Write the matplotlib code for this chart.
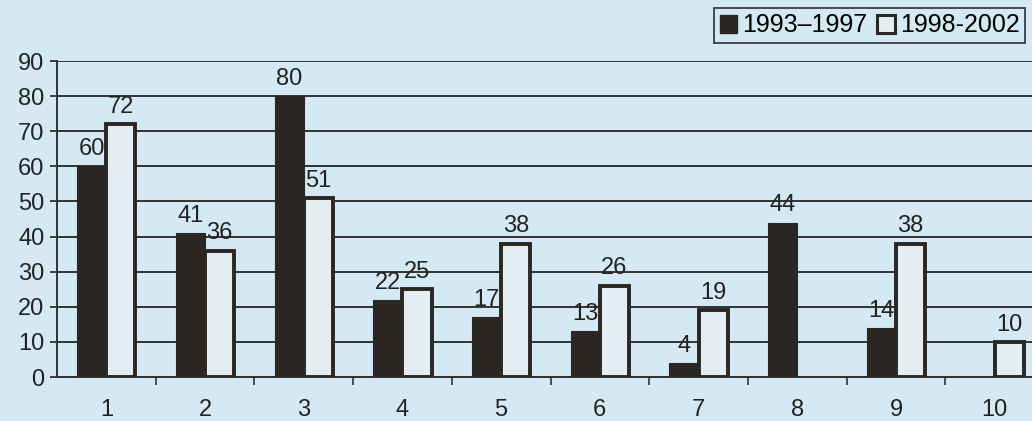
"""Grouped bar chart: two periods, ten categories."""

import matplotlib
import matplotlib.pyplot as plt
import numpy as np
from matplotlib.patches import Patch

matplotlib.use("Agg")

categories = ["1", "2", "3", "4", "5", "6", "7", "8", "9", "10"]
series_names = ["1993\u20131997", "1998-2002"]
values_1993_1997 = [60, 41, 80, 22, 17, 13, 4, 44, 14, None]
values_1998_2002 = [72, 36, 51, 25, 38, 26, 19, None, 38, 10]
y_ticks = [0, 10, 20, 30, 40, 50, 60, 70, 80, 90]

BG = "#d5e9f5"
DARK = "#2a2624"
LIGHT = "#e4eef2"
EDGE = "#2a2624"


def draw_chart(out_path):
    plt.rcParams["font.family"] = ["Liberation Sans", "DejaVu Sans"]
    fig = plt.figure(figsize=(10.32, 4.21), dpi=100, facecolor=BG)
    ax = fig.add_axes([57 / 1032, 44 / 421, 987 / 1032, 316 / 421])
    ax.set_facecolor(BG)

    x = np.arange(1, len(categories) + 1)
    width = 0.295
    dark = np.array([np.nan if v is None else v for v in values_1993_1997], float)
    light = np.array([np.nan if v is None else v for v in values_1998_2002], float)

    ax.bar(x - width / 2, dark, width, color=DARK, edgecolor=DARK,
           linewidth=0.8, zorder=3)
    ax.bar(x + width / 2, light, width, color=LIGHT, edgecolor=EDGE,
           linewidth=2.8, zorder=3)

    for xs, vals in ((x - width / 2, dark), (x + width / 2, light)):
        for xi, v in zip(xs, vals):
            if np.isnan(v):
                continue
            ax.annotate(f"{int(v)}", (xi, v), xytext=(0, 4.5),
                        textcoords="offset points", ha="center", va="bottom",
                        fontsize=17, color="#222222", zorder=4)

    ax.set_xlim(0.5, 10.5)
    ax.set_ylim(0, 90)
    ax.set_yticks(y_ticks)
    ax.yaxis.grid(True, color="#333333", linewidth=1.4, zorder=1)
    ax.set_axisbelow(True)

    ax.set_xticks(x)
    ax.set_xticklabels(categories)
    ax.set_xticks(x[:-1] + 0.5, minor=True)
    ax.tick_params(axis="x", which="major", length=0, pad=16,
                   labelsize=17, colors="#222222")
    ax.tick_params(axis="x", which="minor", length=6, width=1.2,
                   direction="out", color="#333333")
    ax.tick_params(axis="y", length=5, width=1.2, pad=4,
                   labelsize=17, colors="#222222")

    for side in ("top", "right"):
        ax.spines[side].set_visible(False)
    ax.spines["left"].set_color("#333333")
    ax.spines["left"].set_linewidth(1.4)
    ax.spines["bottom"].set_color("#333333")
    ax.spines["bottom"].set_linewidth(1.4)

    handles = [
        Patch(facecolor=DARK, edgecolor=DARK, linewidth=1),
        Patch(facecolor=LIGHT, edgecolor=EDGE, linewidth=2.2),
    ]
    leg = fig.legend(handles, series_names, loc="upper right",
                     bbox_to_anchor=(1025 / 1032, 1 - 8 / 421),
                     ncol=2, fontsize=18, frameon=True, fancybox=False,
                     handlelength=0.7, handleheight=0.7, handletextpad=0.2,
                     columnspacing=0.4, borderpad=0.22, borderaxespad=0)
    leg.get_frame().set_edgecolor("#222222")
    leg.get_frame().set_linewidth(1.4)
    leg.get_frame().set_facecolor(BG)

    fig.savefig(out_path, dpi=100, facecolor=BG)
    plt.close(fig)


def main():
    draw_chart("out.png")


if __name__ == "__main__":
    main()
